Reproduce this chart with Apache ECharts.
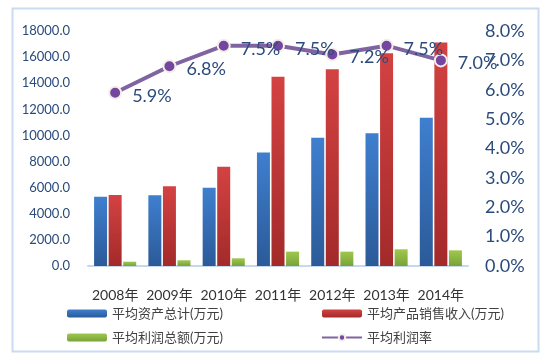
<!DOCTYPE html>
<html>
<head>
<meta charset="utf-8">
<script src="https://cdn.jsdelivr.net/npm/echarts@6/dist/echarts.min.js"></script>
<style>html,body{margin:0;padding:0;background:#fff;}#c{width:543px;height:355px;}</style>
</head>
<body>
<div id="c"></div>
<script>
var categories = ['2008年','2009年','2010年','2011年','2012年','2013年','2014年'];
var assets = [5300, 5420, 6000, 8700, 9830, 10170, 11360];
var sales = [5440, 6110, 7610, 14500, 15070, 16300, 17110];
var profit = [330, 440, 590, 1100, 1100, 1280, 1200];
var rate = [5.9, 6.8, 7.5, 7.5, 7.2, 7.5, 7.0];
var leftTicks = {min: 0, max: 18000, interval: 2000};
var rightTicks = {min: 0, max: 8, interval: 1};

var FONT = 'Lato, "Noto Sans CJK SC", sans-serif';
function grad(top, bottom) {
  return new echarts.graphic.LinearGradient(0, 0, 0, 1, [{offset: 0, color: top}, {offset: 1, color: bottom}]);
}
var chart = echarts.init(document.getElementById('c'));
chart.setOption({
  animation: false,
  graphic: [{
    type: 'rect', left: 10, top: 6, shape: {width: 526, height: 343},
    style: {fill: 'none', stroke: '#c9dcf0', lineWidth: 2}, silent: true
  }],
  grid: {left: 88, right: 75, top: 31, bottom: 89},
  legend: [{
    left: 62, top: 302, orient: 'vertical', itemWidth: 40, itemHeight: 8, itemGap: 11,
    textStyle: {fontFamily: FONT, fontSize: 13, color: '#404040'},
    data: ['平均资产总计(万元)', '平均利润总额(万元)']
  }, {
    left: 316, top: 302, orient: 'vertical', itemWidth: 40, itemHeight: 8, itemGap: 11,
    textStyle: {fontFamily: FONT, fontSize: 13, color: '#404040'},
    data: ['平均产品销售收入(万元)', '平均利润率']
  }],
  xAxis: {
    type: 'category', data: categories,
    axisLine: {lineStyle: {color: '#c5d8ee', width: 2}},
    axisTick: {show: false},
    axisLabel: {fontFamily: FONT, fontSize: 14, color: '#333', margin: 22, interval: 0}
  },
  yAxis: [{
    type: 'value', min: leftTicks.min, max: leftTicks.max, interval: leftTicks.interval,
    splitLine: {show: false}, axisLine: {show: false}, axisTick: {show: false},
    axisLabel: {fontFamily: FONT, fontSize: 13, color: '#2a4b7c', margin: 18,
      formatter: function (v) { return v.toFixed(1); }}
  }, {
    type: 'value', min: rightTicks.min, max: rightTicks.max, interval: rightTicks.interval,
    splitLine: {show: false}, axisLine: {show: false}, axisTick: {show: false},
    axisLabel: {fontFamily: FONT, fontSize: 18, color: '#2a4b7c', margin: 17,
      formatter: function (v) { return v.toFixed(1) + '%'; }}
  }],
  series: [{
    name: '平均资产总计(万元)', type: 'bar', data: assets, barWidth: 13, barGap: '12%',
    itemStyle: {color: grad('#3f7fcf', '#2b5a98')}
  }, {
    name: '平均产品销售收入(万元)', type: 'bar', data: sales, barWidth: 13, barGap: '12%',
    itemStyle: {color: grad('#d44242', '#a32a2a')}
  }, {
    name: '平均利润总额(万元)', type: 'bar', data: profit, barWidth: 13, barGap: '12%',
    itemStyle: {color: grad('#9fc84f', '#78a236')}
  }, {
    name: '平均利润率', type: 'line', yAxisIndex: 1, data: rate,
    symbol: 'circle', symbolSize: 12,
    lineStyle: {color: '#8064a2', width: 4},
    itemStyle: {color: '#7446a0', borderColor: '#f3efe6', borderWidth: 2},
    label: {show: true, position: 'right', distance: 10, offset: [0, 3],
      fontFamily: FONT, fontSize: 18, color: '#2a4b7c',
      formatter: function (p) { return p.value.toFixed(1) + '%'; }},
    z: 5
  }]
});
</script>
</body>
</html>
